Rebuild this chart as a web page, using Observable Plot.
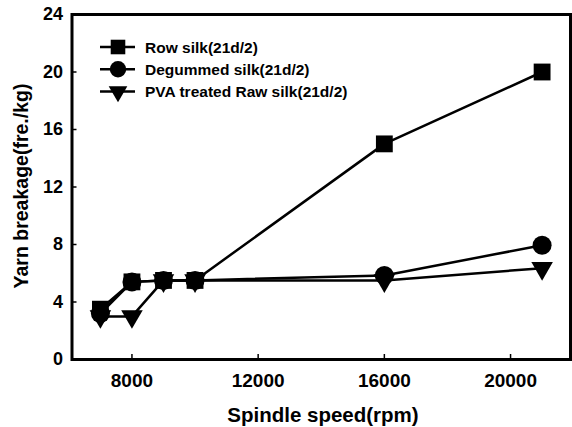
<!DOCTYPE html>
<html>
<head>
<meta charset="utf-8">
<script src="https://cdn.jsdelivr.net/npm/d3@7"></script>
<script src="https://cdn.jsdelivr.net/npm/@observablehq/plot@0.6"></script>
<style>
  html, body { margin: 0; padding: 0; background: #fff; }
  #wrap { position: relative; width: 572px; height: 427px; font-family: "Liberation Sans", Arial, sans-serif; font-weight: bold; color: #000; }
  #wrap svg.plot { position: absolute; left: 0; top: 0; }
  .ytitle { position: absolute; left: 21px; top: 186px; transform: translate(-50%, -50%) rotate(-90deg); font-size: 19.5px; white-space: nowrap; }
  .xtitle { position: absolute; left: 323px; top: 415px; transform: translate(-50%, -50%); font-size: 20.5px; white-space: nowrap; }
</style>
</head>
<body>
<div id="wrap"></div>
<script>
// ---- data ----
const speeds = [7000, 8000, 9000, 10000, 16000, 21000];
const rowSilk = [3.5, 5.4, 5.5, 5.5, 15.0, 20.0];
const degummedSilk = [3.2, 5.4, 5.5, 5.5, 5.85, 7.95];
const pvaSilk = [3.0, 3.0, 5.5, 5.5, 5.5, 6.35];
const seriesNames = ["Row silk(21d/2)", "Degummed silk(21d/2)", "PVA treated Raw silk(21d/2)"];
const xTicks = [8000, 12000, 16000, 20000];
const yTicks = [0, 4, 8, 12, 16, 20, 24];
const xTitle = "Spindle speed(rpm)";
const yTitle = "Yarn breakage(fre./kg)";

const seriesValues = [rowSilk, degummedSilk, pvaSilk];
const markers = [
  {symbol: "square", r: 9.5, rotate: 0},
  {symbol: "circle", r: 9.5, rotate: 0},
  {symbol: "triangle", r: 8, rotate: 180}
];

const table = seriesValues.map((vals, s) => speeds.map((x, i) => ({series: seriesNames[s], x, y: vals[i]})));

const marks = [];
// draw PVA first, row silk last
[2, 1, 0].forEach(s => {
  marks.push(Plot.line(table[s], {x: "x", y: "y", stroke: "#000", strokeWidth: 2.5}));
});
[2, 1, 0].forEach(s => {
  const m = markers[s];
  marks.push(Plot.dot(table[s], {x: "x", y: "y", symbol: m.symbol, r: m.r, rotate: m.rotate, fill: "#000", stroke: "none"}));
});

const chart = Plot.plot({
  width: 572,
  height: 427,
  marginLeft: 71.5,
  marginRight: 2,
  marginTop: 14,
  marginBottom: 68,
  style: {background: "#fff", fontFamily: "'Liberation Sans', Arial, sans-serif", color: "#000"},
  x: {domain: [6100, 21900], axis: null},
  y: {domain: [0, 24], axis: null},
  marks: [
    Plot.axisY({ticks: yTicks, tickSize: 0, tickPadding: 9, fontSize: 18, fontWeight: "bold", label: null}),
    Plot.axisY({ticks: yTicks, tickSize: -5, text: null, label: null, strokeWidth: 1.5}),
    Plot.axisX({ticks: xTicks, tickSize: 0, tickPadding: 14, fontSize: 19, fontWeight: "bold", label: null, tickFormat: d => String(d)}),
    Plot.axisX({ticks: xTicks, tickSize: -5, text: null, label: null, strokeWidth: 1.5}),
    ...marks,
    Plot.frame({stroke: "#000", strokeWidth: 3})
  ]
});
chart.classList.add("plot");
const wrap = document.getElementById("wrap");
wrap.appendChild(chart);

const yt = document.createElement("div"); yt.className = "ytitle"; yt.textContent = yTitle; wrap.appendChild(yt);
const xt = document.createElement("div"); xt.className = "xtitle"; xt.textContent = xTitle; wrap.appendChild(xt);

// ---- legend ----
const rowH = 22.3;
const lg = d3.create("svg").attr("id", "legend").attr("width", 320).attr("height", 75)
  .style("position", "absolute").style("left", "98px").style("top", "35px");
const symMap = {square: d3.symbolSquare, circle: d3.symbolCircle, triangle: d3.symbolTriangle};
seriesNames.forEach((name, i) => {
  const g = lg.append("g").attr("transform", `translate(0,${12 + i * rowH})`);
  g.append("line").attr("x1", 2).attr("x2", 37).attr("y1", 0).attr("y2", 0).attr("stroke", "#000").attr("stroke-width", 2.5);
  const m = markers[i];
  g.append("path").attr("d", d3.symbol(symMap[m.symbol], Math.PI * m.r * m.r * 0.75)())
    .attr("transform", `translate(20,0) rotate(${m.rotate})`).attr("fill", "#000");
  g.append("text").attr("x", 47).attr("y", 0).attr("dy", "0.36em")
    .attr("font-size", 15.5).attr("font-weight", "bold")
    .attr("font-family", "'Liberation Sans', Arial, sans-serif").text(name);
});
wrap.appendChild(lg.node());
</script>
</body>
</html>
